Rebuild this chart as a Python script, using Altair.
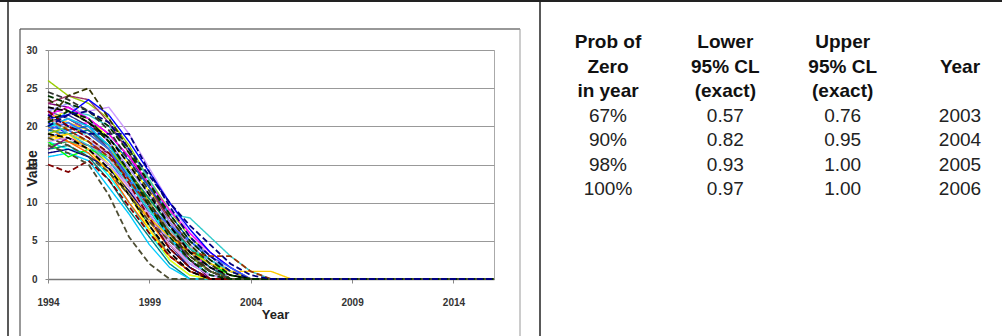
import altair as alt
import pandas as pd

# Simulated yearly trajectories (1994 onward); each run stays at zero once it gets there
years = list(range(1994, 2017))

runs = [
    [20, 21, 19.5, 17, 13.5, 9.5, 6, 3, 1, 0],
    [22, 20, 20.5, 18, 14, 10, 6.5, 3.5, 1.5, 0],
    [19, 18.5, 17, 14.5, 11, 7, 3.5, 1, 0],
    [21, 22, 21, 18.5, 15, 11.5, 8, 4.5, 2, 0.5, 0],
    [18, 17, 16.5, 13.5, 10, 6, 2.5, 0.5, 0],
    [23, 22.5, 21, 19, 16, 12, 8, 4.5, 2, 0],
    [17, 17.5, 16, 13, 9, 5.5, 2, 0],
    [20.5, 19, 18, 16, 12.5, 9, 5.5, 3, 1, 0],
    [24, 23, 22, 20, 16.5, 12.5, 8.5, 5, 2.5, 0.5, 0],
    [16, 16.5, 15.5, 12, 8.5, 4.5, 1.5, 0],
    [26, 24, 23, 21, 17.5, 13, 9, 5.5, 3, 1, 0],
    [19.5, 21, 20, 17.5, 14.5, 11, 7.5, 4, 1.5, 0],
    [22.5, 21.5, 22, 22.5, 19, 14.5, 10, 6, 3, 1, 0],
    [18.5, 19.5, 18, 15.5, 12, 8, 4.5, 2, 0.5, 0],
    [21.5, 20, 19, 19, 19, 14, 9.5, 5.5, 3, 1, 0],
    [20, 22, 21.5, 20, 17, 13, 8.5, 8, 5.5, 3, 1, 0],
    [21, 20.5, 19.5, 17.5, 14, 10.5, 7, 4, 2, 1, 1, 1, 0],
    [21, 24, 25, 21, 17, 12.5, 8, 4.5, 2, 0],
    [15, 14, 15.5, 13, 9.5, 6, 3, 1, 0],
    [17.5, 16.5, 15, 11, 5.5, 2, 0],
    [20, 18, 17, 15, 11.5, 7.5, 4, 1.5, 0],
    [22, 21, 19.5, 17, 13, 9, 5, 2.5, 0.5, 0],
    [19, 20, 18.5, 16.5, 13.5, 10, 6.5, 3.5, 1, 0],
    [17.5, 18, 17.5, 15, 11, 7, 3, 1, 0],
    [23, 24, 23.5, 20.5, 16.5, 12, 7.5, 4, 1.5, 0],
    [21, 19.5, 18, 16, 13, 9.5, 6, 3.5, 3, 3, 1, 0],
    [20.5, 21.5, 20, 17, 13, 8.5, 4.5, 1.5, 0],
    [18, 16, 17, 16, 13.5, 10.5, 7, 4, 2, 0.5, 0],
    [22, 23, 21, 18, 14.5, 11, 7.5, 4.5, 2, 0],
    [19, 18, 16.5, 14, 10, 6.5, 3, 1, 0],
    [24.5, 23.5, 22, 19.5, 15.5, 11.5, 7, 3.5, 1, 0],
    [20, 19.5, 20, 18.5, 15.5, 12, 8.5, 5, 2.5, 1, 0],
    [16.5, 17, 16, 14.5, 11.5, 8, 4, 1.5, 0],
    [21.5, 22.5, 21, 19, 16, 12.5, 9, 6, 3.5, 1.5, 0],
    [18, 19, 18, 15, 11, 6.5, 2.5, 0.5, 0],
    [23.5, 22, 20.5, 18, 14, 10, 6, 3, 1, 0],
    [20, 20.5, 18.5, 16, 12.5, 9, 5.5, 2.5, 0.5, 0],
    [17, 18.5, 17.5, 16.5, 13.5, 10, 6, 2.5, 0],
    [22, 20, 18.5, 16.5, 12.5, 8, 4, 1.5, 0],
    [19.5, 19, 19.5, 17.5, 14, 10.5, 7, 4, 1.5, 0],
    [21, 21.5, 23.5, 21.5, 18, 14, 10, 6.5, 3.5, 1.5, 0],
    [18.5, 17.5, 16, 14, 11, 7.5, 5, 2.5, 1, 0],
    [20, 21, 20, 17.5, 13.5, 9.5, 5.5, 2, 0.5, 0],
    [22.5, 22, 20.5, 18.5, 15, 11, 7, 3.5, 1.5, 0.5, 0],
    [19, 20, 19, 17, 14, 10, 6, 3, 1, 0],
    [21, 20, 18.5, 16, 12, 8, 4.5, 2, 0.5, 0],
    [20.5, 22, 21, 18, 14, 9.5, 5.5, 2.5, 0.5, 0],
    [18, 18.5, 17, 15, 12, 8.5, 5, 2, 0.5, 0],
    [19.5, 20.5, 19, 17, 13, 9.5, 7, 5, 3, 1.5, 0],
    [21, 19, 17.5, 15.5, 12.5, 9, 6.5, 4, 2.5, 1, 0],
    [20, 21.5, 22, 20.5, 17, 13.5, 10, 7, 4.5, 2, 0.5, 0],
    [18.5, 19, 17, 14, 11, 8, 5.5, 3.5, 2, 1, 0],
]

# runs drawn with a dashed stroke (0-based positions in `runs`)
dashed_runs = [17, 18, 19, 2, 8, 14, 25, 30, 35, 38, 41, 43, 46, 50]

solid_palette = [
    "#000080", "#FF00FF", "#FFFF00", "#00FFFF", "#800080", "#008080",
    "#0000FF", "#00CCFF", "#99CC00", "#FF99CC", "#CC99FF", "#3366FF",
    "#33CCCC", "#FFCC00", "#FF9900", "#666699", "#969696", "#339966",
    "#993366", "#333399", "#00FF00", "#9999FF", "#FF6600", "#0066CC",
]
dashed_palette = ["#333300", "#800000", "#4D4D33", "#000000", "#003300",
                  "#000080", "#993300", "#333333"]

# Summary table
prob_zero = ["67%", "90%", "98%", "100%"]
lower_cl = ["0.57", "0.82", "0.93", "0.97"]
upper_cl = ["0.76", "0.95", "1.00", "1.00"]
zero_year = ["2003", "2004", "2005", "2006"]
header_lines = [
    ["Prob of", "Zero", "in year"],
    ["Lower", "95% CL", "(exact)"],
    ["Upper", "95% CL", "(exact)"],
    ["", "Year", ""],
]

# ---- long-form line data ----
solid_ids = [i for i in range(len(runs)) if i not in dashed_runs]
order = solid_ids + dashed_runs  # dashed runs drawn last, on top
rows = []
color_domain, color_range = [], []
for k, i in enumerate(order):
    vals = runs[i] + [0] * (len(years) - len(runs[i]))
    rid = f"run{k:02d}"
    is_dashed = i in dashed_runs
    if is_dashed:
        col = dashed_palette[dashed_runs.index(i) % len(dashed_palette)]
    else:
        col = solid_palette[solid_ids.index(i) % len(solid_palette)]
    color_domain.append(rid)
    color_range.append(col)
    for y, v in zip(years, vals):
        rows.append({"run": rid, "Year": y, "Value": v,
                     "style": "dashed" if is_dashed else "solid"})
lines_df = pd.DataFrame(rows)

# ---- table cell data ----
head_rows = []
for c, lines in enumerate(header_lines):
    for r, t in enumerate(lines):
        if t:
            head_rows.append({"col": c, "row": r, "text": t})
body_rows = []
for r, vals in enumerate(zip(prob_zero, lower_cl, upper_cl, zero_year)):
    for c, t in enumerate(vals):
        body_rows.append({"col": c, "row": r + 3, "text": t})
head_df = pd.DataFrame(head_rows)
body_df = pd.DataFrame(body_rows)

W, H = 446, 229
axis_font = "Liberation Sans, Arial, sans-serif"

lines = alt.Chart(lines_df).mark_line().encode(
    x=alt.X("Year:Q",
            scale=alt.Scale(domain=[1994, 2016], nice=False, zero=False),
            axis=alt.Axis(values=[1994, 1999, 2004, 2009, 2014], format="d",
                          grid=False, tickSize=4, tickColor="#888",
                          domainColor="#777", domainWidth=1.5,
                          labelPadding=14, labelFont=axis_font, labelFontSize=10,
                          labelFontWeight="bold", labelColor="#333",
                          labelFlush=False, labelOverlap=False,
                          title="Year", titleFont=axis_font, titleFontSize=13,
                          titleFontWeight="bold", titleColor="#222",
                          titleX=227, titleY=35, titleBaseline="middle")),
    y=alt.Y("Value:Q",
            scale=alt.Scale(domain=[0, 30], nice=False),
            axis=alt.Axis(values=[0, 5, 10, 15, 20, 25, 30], grid=True,
                          gridColor="#999", gridWidth=1, tickSize=3,
                          tickColor="#888", domainColor="#999",
                          labelPadding=8, labelFont=axis_font, labelFontSize=10,
                          labelFontWeight="bold", labelColor="#333",
                          title="Value", titleFont=axis_font, titleFontSize=14,
                          titleFontWeight="bold", titleColor="#222",
                          titleX=-16, titleY=118, titleAlign="center",
                          titleBaseline="middle", titleAngle=-90)),
    color=alt.Color("run:N", scale=alt.Scale(domain=color_domain, range=color_range),
                    legend=None),
    strokeDash=alt.StrokeDash("style:N",
                              scale=alt.Scale(domain=["solid", "dashed"],
                                              range=[[1, 0], [6, 3]]),
                              legend=None),
    strokeWidth=alt.StrokeWidth("style:N",
                                scale=alt.Scale(domain=["solid", "dashed"],
                                                range=[1.4, 1.8]),
                                legend=None),
)

col_x = alt.X("col:Q", scale=alt.Scale(domain=[0, 3], range=[560, 912]), axis=None)
row_y = alt.Y("row:Q", scale=alt.Scale(domain=[0, 6], range=[-8, 139]), axis=None)

table_head = alt.Chart(head_df).mark_text(
    font="Liberation Sans, Arial, sans-serif", fontSize=19, fontWeight="bold",
    color="#111", align="center", baseline="middle"
).encode(x=col_x, y=row_y, text="text:N")

table_body = alt.Chart(body_df).mark_text(
    font="Liberation Sans, Arial, sans-serif", fontSize=19,
    color="#222", align="center", baseline="middle"
).encode(x=col_x, y=row_y, text="text:N")

# frame lines around the two panels
frame_src = pd.DataFrame({"k": [0]})
def vrule(x, y0, y1, color, w):
    return alt.Chart(frame_src).mark_rule(color=color, strokeWidth=w).encode(
        x=alt.value(x), y=alt.value(y0), y2=alt.value(y1))
def hrule(y, x0, x1, color, w):
    return alt.Chart(frame_src).mark_rule(color=color, strokeWidth=w).encode(
        y=alt.value(y), x=alt.value(x0), x2=alt.value(x1))

frames = [
    hrule(-49, -48, 954, "#222", 2),      # top border
    vrule(-40, -50, 290, "#222", 1.5),    # outer left border
    vrule(492, -50, 290, "#222", 1.5),    # divider between panels
    hrule(-21, -28, 472, "#333", 1.2),    # chart box top
    vrule(-28, -21, 290, "#555", 1.2),    # chart box left
    vrule(472, -21, 290, "#999", 1),      # chart box right
]

chart = alt.layer(lines, table_head, table_body, *frames).resolve_scale(
    x="independent", y="independent", color="independent",
    strokeDash="independent", strokeWidth="independent"
).properties(
    width=W, height=H,
    padding={"left": 48, "top": 50, "right": 508, "bottom": 57},
    autosize=alt.AutoSizeParams(type="none"),
    background="white",
).configure_view(stroke="#aaa", strokeWidth=1)

chart.save("out.html", embed_options={"renderer": "svg", "actions": False})
